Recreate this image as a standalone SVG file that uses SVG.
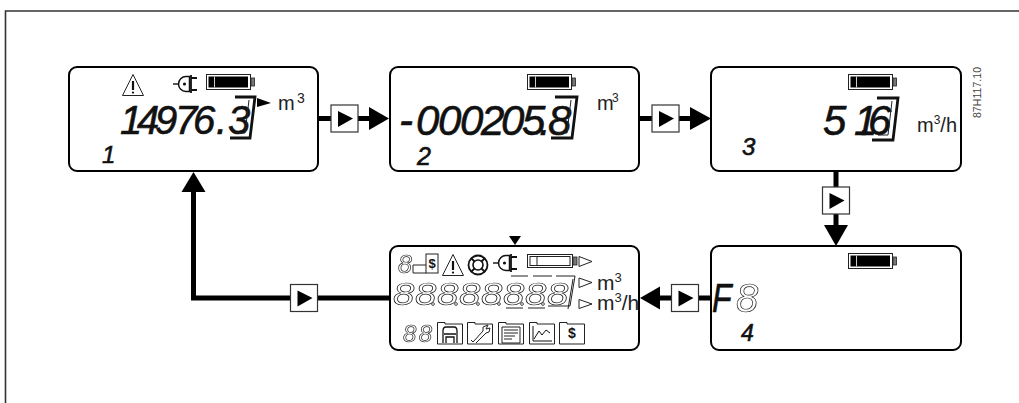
<svg xmlns="http://www.w3.org/2000/svg" width="1019" height="403" viewBox="0 0 1019 403">
<style>
.lcd{fill:#fff;stroke:#000;stroke-width:2}
.lines{fill:none;stroke:#000;stroke-width:5}
.btn{fill:#fff;stroke:#333;stroke-width:1.2}
.blk{fill:#000;stroke:none}
.seg{font-family:"Liberation Sans",Arial,sans-serif;font-style:italic;fill:#111;stroke:#111;stroke-width:.6}
.ghost{font-family:"Liberation Sans",Arial,sans-serif;font-style:italic;fill:#fff;stroke:#222;stroke-width:.7}
.unit{font-family:"Liberation Sans",Arial,sans-serif;fill:#222}
.thin{fill:none;stroke:#222;stroke-width:1}
.br{fill:none;stroke:#111;stroke-width:2.8}
.hollow{fill:#fff;stroke:#222;stroke-width:1}
</style>
<defs>
<filter id="gray"><feOffset dx="0" dy="0"/></filter>
<g id="bat"><rect x=".5" y=".5" width="44" height="15" fill="#fff" stroke="#222"/><rect x="2.5" y="2.5" width="39.5" height="11" fill="#000"/><rect x="8" y="2.5" width="1" height="11" fill="#ccc"/><rect x="45" y="4" width="3.5" height="8" fill="#777" stroke="#222" stroke-width=".8"/></g>
<g id="plug"><path d="M-12,0H-7" stroke="#111" stroke-width="1.4" fill="none"/><path d="M4.5,-7.5H1A7.5,7.5 0 0 0 1,7.5H4.5Z" fill="#fff" stroke="#111" stroke-width="1.5"/><circle cx="-.5" cy="0" r="1.6" fill="#111"/><path d="M6,-9V9M6,-6H12M6,6H12" stroke="#111" stroke-width="1.8" fill="none"/></g>
<g id="warn"><path d="M11,.5L21.5,21.5H.5Z" fill="#fff" stroke="#222" stroke-width="1"/><path d="M11,7V16" stroke="#111" stroke-width="2.2"/><circle cx="11" cy="18.6" r="1.1" fill="#111"/></g>
<g id="btn"><rect class="btn" x="0" y="0" width="27" height="27"/><path class="blk" d="M7,6L22,13.5L7,22Z"/></g>
<path id="fold" d="M.5,.5H8V2H25.5V22H.5Z" fill="#fff" stroke="#222" stroke-width="1"/>
</defs>
<rect width="1019" height="403" fill="#fff"/>
<path d="M1019,11H5.500V403" fill="none" stroke="#333" stroke-width="1.600"/>
<text transform="translate(981,118) rotate(-90)" font-family="Liberation Sans,Arial,sans-serif" font-size="10.500" fill="#444" textLength="51">87H117.10</text>
<g id="connectors">
<path class="lines" d="M318,118.500H369M639,118.500H691M836,171V227M711,298H659M389,298H193.500V191"/>
<path class="blk" d="M369,107L389,118.500L369,130Z"/>
<path class="blk" d="M690,107L711,118.500L690,130Z"/>
<path class="blk" d="M824,225H848L836,246Z"/>
<path class="blk" d="M660,286.500V309.500L640,298Z"/>
<path class="blk" d="M193.500,172L205.500,192H181.500Z"/>
<use href="#btn" x="331" y="105"/>
<use href="#btn" x="652" y="105"/>
<use href="#btn" x="822.500" y="187"/>
<use href="#btn" x="671.500" y="284.500"/>
<use href="#btn" x="290.500" y="284.500"/>
</g>
<g id="node1">
<rect class="lcd" x="69" y="67" width="249" height="104" rx="8"/>
<use href="#warn" x="122" y="74"/>
<use href="#plug" x="185" y="84"/>
<use href="#bat" x="206" y="74"/>
<text class="seg" y="134" font-size="40" x="120 137 155 175 193 216 228">14976.3</text>
<path class="br" d="M235,97H255L250,138H230"/><path class="thin" d="M249,100L245,133H236"/>
<path class="blk" d="M257,98L271,103L257,107Z"/>
<text class="unit" x="278" y="110" font-size="20">m</text><text class="unit" x="297" y="103" font-size="14">3</text>
<text class="seg" x="102" y="163" font-size="24">1</text>
</g>
<g id="node2">
<rect class="lcd" x="390" y="67" width="249" height="104" rx="8"/>
<use href="#bat" x="527" y="74"/>
<text class="seg" y="135" font-size="42" x="399 416 438 460 481 501 522 539 548">-000205.8</text>
<path class="br" d="M555,97H577L572,138H551"/><path class="thin" d="M571,100L567,133H556"/>
<text class="unit" x="597" y="110" font-size="20">m</text><text class="unit" x="612" y="102" font-size="12">3</text>
<text class="seg" x="417" y="165" font-size="25">2</text>
</g>
<g id="node3">
<rect class="lcd" x="711" y="67" width="250" height="104" rx="8"/>
<use href="#bat" x="848" y="74"/>
<text class="seg" y="135" font-size="42" x="823 854 860 868">51.6</text>
<path class="br" d="M877,98H898L893,140H872"/><path class="thin" d="M892,101L888,135H878"/>
<text class="unit" x="917" y="132" font-size="20">m<tspan font-size="12" dy="-8">3</tspan><tspan dy="8">/h</tspan></text>
<text class="seg" x="742" y="155" font-size="24">3</text>
</g>
<g id="node4">
<rect class="lcd" x="711" y="246" width="250" height="104" rx="8"/>
<use href="#bat" x="848" y="253"/>
<text class="seg" transform="translate(712,312) scale(.8,1)" font-size="40">F</text>
<text class="ghost" filter="url(#gray)" x="736" y="312" font-size="40">8</text>
<text class="seg" x="741" y="341" font-size="23">4</text>
</g>
<g id="node5">
<rect class="lcd" x="390" y="246" width="249" height="104" rx="8"/>
<path class="blk" d="M509,236H521L515,245Z"/>
<text class="ghost" filter="url(#gray)" x="398" y="273" font-size="25">8</text>
<path class="thin" d="M413,273H426M413,273V265H426"/>
<rect class="hollow" x="426" y="254" width="12" height="19"/>
<text x="432" y="268" font-family="Liberation Sans,Arial,sans-serif" font-size="13" font-weight="bold" text-anchor="middle" fill="#111">$</text>
<use href="#warn" x="442" y="254"/>
<circle cx="478" cy="265" r="9.500" fill="#fff" stroke="#111" stroke-width="1.800"/><circle cx="478" cy="265" r="5" fill="#fff" stroke="#111" stroke-width="1.600"/><path d="M471,258L474.500,261.500M485,258L481.500,261.500M471,272L474.500,268.500M485,272L481.500,268.500" stroke="#111" stroke-width="1.800"/>
<use href="#plug" x="505" y="263"/>
<rect class="hollow" x="527.500" y="254.500" width="45" height="13"/><rect class="thin" x="530" y="256.500" width="40" height="9"/><path class="thin" d="M537,256.500V265.500"/><rect x="573" y="257" width="4" height="8" fill="#777" stroke="#222" stroke-width=".8"/>
<path class="hollow" d="M579,256.500L592,261.500L579,266.500Z"/>
<path class="hollow" d="M579,278L592,282.500L579,287.500Z"/>
<path class="hollow" d="M579,299.500L592,304L579,308.500Z"/>
<text class="unit" x="597" y="290" font-size="21">m<tspan font-size="13" dy="-8">3</tspan></text>
<text class="unit" x="597" y="310" font-size="21">m<tspan font-size="13" dy="-8">3</tspan><tspan dy="8">/h</tspan></text>
<g filter="url(#gray)"><text class="ghost" transform="translate(393,305) scale(1.2,1)" font-size="32" stroke-width=".6" x="0 18.300 36.700 55 73.300 91.700 110 128.300">88888888</text></g>
<g fill="#fff" stroke="#222" stroke-width=".8"><circle cx="433" cy="304" r="1.400"/><circle cx="456" cy="304" r="1.400"/><circle cx="478" cy="304" r="1.400"/><circle cx="499" cy="304" r="1.400"/><circle cx="522" cy="304" r="1.400"/><circle cx="543" cy="304" r="1.400"/></g>
<path class="thin" d="M511,276H528M533,276H552M556,276H575L570,306H548M573,279L568,309M523,308H506M545,308H528"/>
<text class="ghost" filter="url(#gray)" x="403" y="342" font-size="24" textLength="29">88</text>
<use href="#fold" x="437" y="322"/><use href="#fold" x="467" y="322"/><use href="#fold" x="498" y="322"/><use href="#fold" x="529" y="322"/><use href="#fold" x="559" y="322"/>
<path d="M443,343V331Q443,327 446,327H454Q457,327 457,331V343M444,334H456M446,343V337H454V343" fill="none" stroke="#111" stroke-width="1.300"/>
<path d="M473,342L483,331M476,343L486,333M483,331L483,327L488,325L486,329L490,328L489,332L486,333M473,342L471,340" fill="none" stroke="#222" stroke-width="1"/>
<path d="M502,327H520V343H502ZM504,330H518M504,333H518M504,336H515M504,339H512" fill="none" stroke="#222" stroke-width="1"/>
<path d="M533,326V341H552M534,339L539,331L542,335L546,330L550,333" fill="none" stroke="#111" stroke-width="1"/>
<text x="572" y="338" font-family="Liberation Sans,Arial,sans-serif" font-size="14" font-weight="bold" text-anchor="middle" fill="#111">$</text>
</g>
</svg>
